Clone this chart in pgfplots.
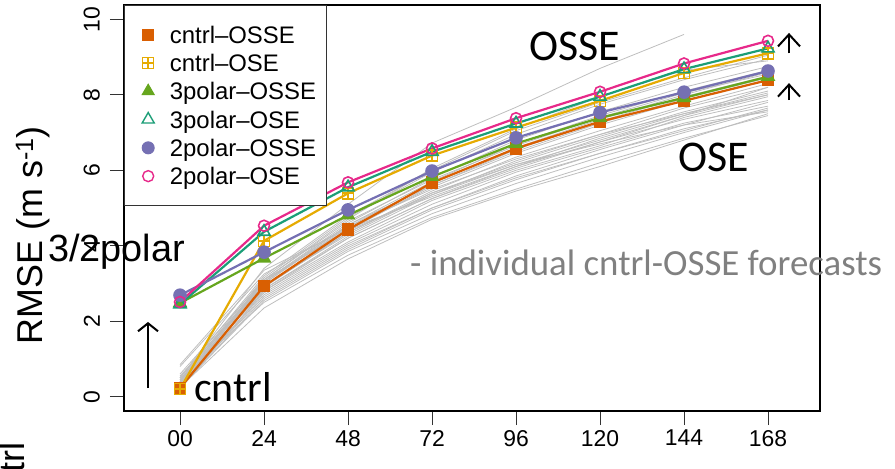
\documentclass[border=0pt]{standalone}
\usepackage{pgfplots}
\pgfplotsset{compat=1.18}
\usepackage{fontspec}
\setmainfont{Liberation Sans}
\newfontfamily\calfont{Carlito}
\usetikzlibrary{arrows.meta}
\definecolor{cA}{HTML}{D95F02}
\definecolor{cB}{HTML}{E6AB02}
\definecolor{cC}{HTML}{66A61E}
\definecolor{cD}{HTML}{1B9E77}
\definecolor{cE}{HTML}{7570B3}
\definecolor{cF}{HTML}{E7298A}
\definecolor{gl}{HTML}{BEBEBE}
\pgfdeclareplotmark{boxplus}{%
  \pgfpathrectangle{\pgfpoint{-\pgfplotmarksize}{-\pgfplotmarksize}}{\pgfpoint{2\pgfplotmarksize}{2\pgfplotmarksize}}%
  \pgfpathmoveto{\pgfpoint{-\pgfplotmarksize}{0pt}}\pgfpathlineto{\pgfpoint{\pgfplotmarksize}{0pt}}%
  \pgfpathmoveto{\pgfpoint{0pt}{-\pgfplotmarksize}}\pgfpathlineto{\pgfpoint{0pt}{\pgfplotmarksize}}%
  \pgfusepathqstroke}
\begin{document}
\begin{tikzpicture}
\begin{axis}[
  at={(0,0)}, anchor=south west,
  scale only axis, width=696bp, height=406bp,
  xmin=-0.667, xmax=7.619, ymin=-0.379, ymax=10.38,
  xtick={0,1,2,3,4,5,6,7}, xticklabels={00,24,48,72,96,120,144,168},
  ytick={0,2,4,6,8,10}, yticklabels={0,2,4,6,8,10},
  /pgf/number format/assume math mode=true,
  tick align=outside, tick pos=left, major tick length=14bp,
  axis line style={black, line width=1.1bp},
  tick style={black!80, line width=1bp},
  ticklabel style={font=\fontsize{23}{26}\selectfont, inner sep=0pt},
  yticklabel style={rotate=90, anchor=south},
  yticklabel shift=10bp,
  xticklabel shift=5bp,
  clip=false,
  ylabel={RMSE (m s\textsuperscript{-1})},
  ylabel style={at={(rel axis cs:-0.131,0.433)}, anchor=center, font=\fontsize{36}{40}\selectfont},
  lg/.style={legend image code/.code={\path (-18bp,0bp) (16bp,0bp); \draw[##1] plot coordinates {(0bp,0bp)};}},
  legend style={at={(rel axis cs:0,1)}, anchor=north west, draw=black!80, line width=1bp, fill=white,
    font=\fontsize{24}{28}\selectfont, inner xsep=5bp, inner ysep=15bp,
    nodes={inner xsep=5bp, inner ysep=3.65bp, text height=19bp, text depth=2bp, anchor=west}},
  legend cell align=left,
  gr/.style={gl, line width=0.8bp, forget plot},
  ser/.style={line width=2.2bp, mark options={solid, line width=1.6bp}, forget plot},
]
% individual cntrl-OSSE forecasts
\addplot[gr] coordinates {(0,0.20)(1,2.90)(2,4.40)(3,5.60)(4,6.55)(5,7.30)(6,7.95)(7,8.50)};
\addplot[gr] coordinates {(0,0.25)(1,2.60)(2,3.90)(3,4.95)(4,5.75)(5,6.45)(6,7.10)(7,7.60)};
\addplot[gr] coordinates {(0,0.30)(1,3.05)(2,4.60)(3,5.80)(4,6.80)(5,7.55)(6,8.20)(7,8.75)};
\addplot[gr] coordinates {(0,0.35)(1,2.85)(2,4.25)(3,5.35)(4,6.25)(5,6.95)(6,7.65)(7,8.20)};
\addplot[gr] coordinates {(0,0.40)(1,3.10)(2,4.65)(3,5.75)(4,6.65)(5,7.40)(6,8.05)(7,8.55)};
\addplot[gr] coordinates {(0,0.45)(1,2.50)(2,3.75)(3,4.75)(4,5.50)(5,6.20)(6,6.85)(7,7.45)};
\addplot[gr] coordinates {(0,0.50)(1,3.20)(2,4.80)(3,6.00)(4,7.05)(5,7.80)(6,8.45)(7,9.05)};
\addplot[gr] coordinates {(0,0.55)(1,2.95)(2,4.35)(3,5.45)(4,6.35)(5,7.05)(6,7.70)(7,8.30)};
\addplot[gr] coordinates {(0,0.80)(1,3.25)(2,4.50)(3,5.50)(4,6.30)(5,6.95)(6,7.50)(7,8.00)};
\addplot[gr] coordinates {(0,0.85)(1,3.35)(2,4.45)(3,5.30)(4,6.10)(5,6.75)(6,7.35)(7,7.85)};
\addplot[gr] coordinates {(0,0.30)(1,2.75)(2,4.05)(3,5.10)(4,5.95)(5,6.60)(6,7.25)(7,7.70)};
\addplot[gr] coordinates {(0,0.25)(1,2.35)(2,3.65)(3,4.70)(4,5.45)(5,6.10)(6,6.80)(7,7.50)};
\addplot[gr] coordinates {(0,0.35)(1,3.00)(2,4.55)(3,5.70)(4,6.70)(5,7.45)(6,8.10)(7,8.65)};
\addplot[gr] coordinates {(0,0.40)(1,2.95)(2,4.30)(3,5.40)(4,6.20)(5,6.90)(6,7.55)(7,8.10)};
\addplot[gr] coordinates {(0,0.20)(1,2.80)(2,4.20)(3,5.25)(4,6.10)(5,6.85)(6,7.50)(7,8.05)};
\addplot[gr] coordinates {(0,0.45)(1,3.15)(2,4.75)(3,5.95)(4,6.95)(5,7.75)(6,8.40)(7,8.95)};
\addplot[gr] coordinates {(0,0.50)(1,3.05)(2,4.45)(3,5.55)(4,6.45)(5,7.20)(6,7.85)(7,8.40)};
\addplot[gr] coordinates {(0,0.30)(1,2.70)(2,4.00)(3,5.00)(4,5.85)(5,6.55)(6,7.20)(7,7.80)};
\addplot[gr] coordinates {(0,0.35)(1,2.90)(2,4.35)(3,5.40)(4,6.15)(5,6.70)(6,7.20)(7,7.55)};
\addplot[gr] coordinates {(0,0.25)(1,3.10)(2,4.70)(3,6.05)(4,7.10)(5,7.95)(6,8.65)(7,8.90)};
\addplot[gr] coordinates {(0,0.50)(1,3.40)(2,5.10)(3,6.72)(4,7.67)(5,8.70)(6,9.60)};
\addplot[gr] coordinates {(0,0.40)(1,2.80)(2,4.10)(3,5.20)(4,6.00)(5,6.65)(6,7.40)(7,7.95)};
\addplot[gr] coordinates {(0,0.30)(1,2.65)(2,3.95)(3,5.00)(4,5.80)(5,6.45)(6,7.05)(7,7.65)};
\addplot[gr] coordinates {(0,0.45)(1,3.00)(2,4.50)(3,5.65)(4,6.60)(5,7.35)(6,8.00)(7,8.60)};
\addplot[gr] coordinates {(0,0.60)(1,3.10)(2,4.40)(3,5.35)(4,6.15)(5,6.80)(6,7.45)(7,8.00)};
\addplot[gr] coordinates {(0,0.25)(1,2.55)(2,3.85)(3,4.85)(4,5.65)(5,6.35)(6,7.00)(7,7.60)};
\addplot[gr] coordinates {(0,0.40)(1,3.05)(2,4.55)(3,5.60)(4,6.50)(5,7.25)(6,7.90)(7,8.45)};
\addplot[gr] coordinates {(0,0.35)(1,2.85)(2,4.20)(3,5.25)(4,6.05)(5,6.75)(6,7.45)(7,8.20)};
% experiment means
\addplot[ser, cA, mark=square*, mark size=5.5bp] coordinates {(0,0.23)(1,2.93)(2,4.43)(3,5.67)(4,6.58)(5,7.29)(6,7.84)(7,8.39)};
\addplot[ser, cB, mark=boxplus, mark size=5.5bp] coordinates {(0,0.20)(1,4.13)(2,5.39)(3,6.39)(4,7.13)(5,7.84)(6,8.58)(7,9.10)};
\addplot[ser, cC, mark=triangle*, mark size=7bp] coordinates {(0,2.48)(1,3.67)(2,4.81)(3,5.83)(4,6.71)(5,7.39)(6,7.92)(7,8.48)};
\addplot[ser, cD, mark=triangle, mark size=7bp] coordinates {(0,2.45)(1,4.37)(2,5.55)(3,6.49)(4,7.24)(5,7.95)(6,8.68)(7,9.23)};
\addplot[ser, cE, mark=*, mark size=6bp] coordinates {(0,2.69)(1,3.83)(2,4.95)(3,5.98)(4,6.86)(5,7.53)(6,8.07)(7,8.63)};
\addplot[ser, cF, mark=o, mark size=5.5bp] coordinates {(0,2.51)(1,4.53)(2,5.68)(3,6.58)(4,7.38)(5,8.08)(6,8.83)(7,9.43)};
% legend
\addlegendimage{only marks, mark=square*, mark size=5.5bp, cA, lg}
\addlegendentry{cntrl–OSSE}
\addlegendimage{only marks, mark=boxplus, mark size=5.5bp, cB, line width=1.4bp, lg}
\addlegendentry{cntrl–OSE}
\addlegendimage{only marks, mark=triangle*, mark size=7bp, cC, lg}
\addlegendentry{3polar–OSSE}
\addlegendimage{only marks, mark=triangle, mark size=7bp, cD, line width=1.4bp, lg}
\addlegendentry{3polar–OSE}
\addlegendimage{only marks, mark=*, mark size=6bp, cE, lg}
\addlegendentry{2polar–OSSE}
\addlegendimage{only marks, mark=o, mark size=5.5bp, cF, line width=1.4bp, lg}
\addlegendentry{2polar–OSE}
% annotations
\node[anchor=center, font=\calfont\fontsize{44}{48}\selectfont] at (axis cs:4.70,9.27) {OSSE};
\node[anchor=center, font=\calfont\fontsize{44}{48}\selectfont] at (axis cs:6.35,6.35) {OSE};
\node[anchor=base west, inner sep=0pt, font=\fontsize{38}{42}\selectfont] at (axis cs:-1.571,3.57) {3/2polar};
\node[anchor=base west, inner sep=0pt, font=\calfont\fontsize{42}{46}\selectfont] at (axis cs:0.167,-0.14) {cntrl};
\node[anchor=base west, inner sep=0pt, text=black!50, font=\calfont\fontsize{37}{41}\selectfont] at (axis cs:2.738,3.20) {- individual cntrl-OSSE forecasts};
\draw[line width=2bp, -{Straight Barb[length=8bp, width=20bp]}] (axis cs:-0.381,0.23) -- (axis cs:-0.381,1.98);
\draw[line width=2bp, -{Straight Barb[length=12bp, width=22bp]}] (axis cs:7.25,9.10) -- (axis cs:7.25,9.64);
\draw[line width=2bp, -{Straight Barb[length=12bp, width=22bp]}] (axis cs:7.25,7.86) -- (axis cs:7.25,8.31);
\end{axis}
\node[rotate=90, anchor=east, inner sep=0pt, font=\fontsize{36}{40}\selectfont] at (-112bp,-31bp) {cntrl};
\pgfresetboundingbox
\path (-124bp,-58bp) rectangle (771bp,411bp);
\end{tikzpicture}
\end{document}
